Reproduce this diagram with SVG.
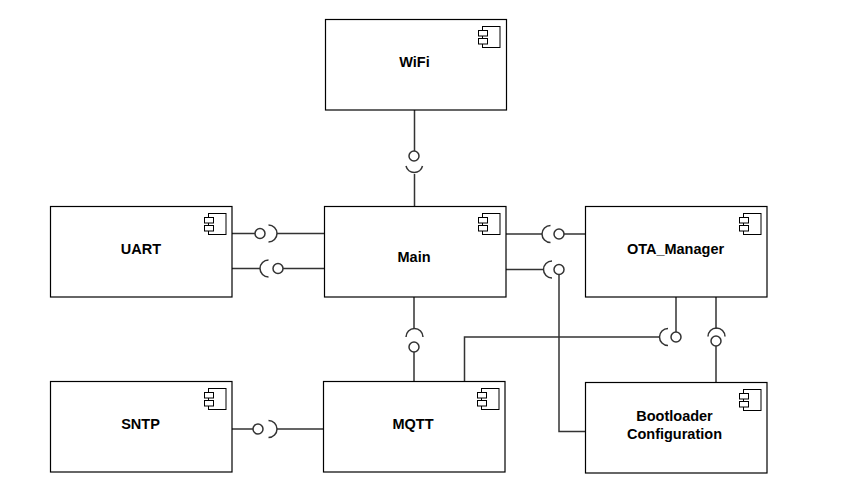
<svg xmlns="http://www.w3.org/2000/svg" width="866" height="501" viewBox="0 0 866 501">
<style>
text{font-family:"Liberation Sans",Arial,sans-serif;font-size:14.5px;font-weight:bold;fill:#000;text-anchor:middle}
.b{fill:#fff;stroke:#000;stroke-width:1.2}
.i{fill:#fff;stroke:#000;stroke-width:1}
#connectors path,#connectors circle{fill:none;stroke:#333;stroke-width:1.5}
</style>
<defs>
<g id="icon"><rect class="i" x="4.5" y="0.5" width="17.500" height="21"/><rect class="i" x="0.5" y="4.5" width="9" height="5.500"/><rect class="i" x="0.5" y="12.500" width="9" height="5.500"/></g>
</defs>
<rect width="866" height="501" fill="#fff"/>
<g id="connectors">
<path d="M414.500 110V151M414.500 174V206"/><circle cx="414" cy="156" r="5"/><path d="M406 166A8.500 8.500 0 0 0 422.500 166"/>
<path d="M232 233.500H255M277 233.500H324"/><circle cx="260" cy="233.500" r="5"/><path d="M268.500 225A8.500 8.500 0 0 1 268.500 242"/>
<path d="M232 268.500H260M283 268.500H324"/><circle cx="278" cy="268.500" r="5"/><path d="M268.500 260A8.500 8.500 0 0 0 268.500 277"/>
<path d="M506 234H542M564 234H585"/><circle cx="559" cy="234" r="5"/><path d="M550.500 225.500A8.500 8.500 0 0 0 550.500 242.500"/>
<path d="M506 269.500H543.500"/><circle cx="559" cy="269.500" r="5"/><path d="M552 261A8.500 8.500 0 0 0 552 278"/>
<path d="M559 274.500V431.500H585"/>
<path d="M414 297V329M414 352V381"/><circle cx="414" cy="347" r="5"/><path d="M406 337A8.500 8.500 0 0 1 423 337"/>
<path d="M232 429H253M277 429H323"/><circle cx="258" cy="429" r="5"/><path d="M268.500 420.500A8.500 8.500 0 0 1 268.500 437.500"/>
<path d="M464.500 381V337H660"/><path d="M676 297V332"/><circle cx="676" cy="337" r="5"/><path d="M668 328.500A8.500 8.500 0 0 0 668 345.500"/>
<path d="M716 297V329M716 346V382"/><circle cx="716" cy="341" r="5"/><path d="M708 336.500A8.500 8.500 0 0 1 725 336.500"/>
</g>
<g id="wifi"><rect class="b" x="325.500" y="19.500" width="181" height="90.500"/><use href="#icon" x="478" y="26"/><text x="414.500" y="67">WiFi</text></g>
<g id="uart"><rect class="b" x="50.500" y="206.500" width="181.500" height="90.500"/><use href="#icon" x="204" y="213"/><text x="141" y="254">UART</text></g>
<g id="main"><rect class="b" x="324.500" y="206.500" width="181.500" height="90.500"/><use href="#icon" x="478" y="213"/><text x="414" y="262">Main</text></g>
<g id="ota"><rect class="b" x="585.500" y="206.500" width="181.500" height="90.500"/><use href="#icon" x="739" y="213"/><text x="675.500" y="254">OTA_Manager</text></g>
<g id="sntp"><rect class="b" x="50.500" y="381.500" width="181.500" height="90.500"/><use href="#icon" x="204" y="388"/><text x="140.500" y="429">SNTP</text></g>
<g id="mqtt"><rect class="b" x="323.500" y="381.500" width="181.500" height="90.500"/><use href="#icon" x="477" y="388"/><text x="413" y="429">MQTT</text></g>
<g id="bootloader"><rect class="b" x="585.500" y="382.500" width="181.500" height="90.500"/><use href="#icon" x="739" y="389"/><text x="674.500" y="421">Bootloader</text><text x="674.500" y="438.500">Configuration</text></g>
</svg>
